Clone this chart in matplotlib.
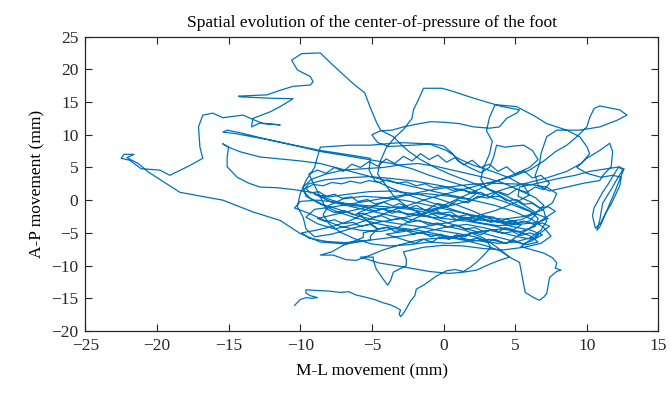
import numpy as np
import matplotlib.pyplot as plt

plt.rcParams['font.family'] = ['Liberation Serif', 'DejaVu Serif']

# centre-of-pressure trajectory (M-L, A-P) in mm, split into pieces of the walk
bottom_tail = [(-10.4, -16.1), (-10.0, -15.2), (-9.6, -14.9), (-9.2, -15.0), (-8.8, -14.9), (-9.3, -14.6),
               (-9.6, -14.2), (-9.6, -13.7), (-8.9, -13.8), (-8.0, -13.9), (-7.2, -14.1), (-6.6, -14.0),
               (-6.1, -14.5), (-5.5, -14.8), (-4.8, -15.2), (-4.2, -15.7), (-3.7, -16.0), (-3.3, -16.4),
               (-3.0, -16.8), (-3.1, -17.4), (-3.0, -17.8), (-2.8, -17.3), (-2.6, -16.6), (-2.3, -15.4),
               (-2.0, -14.6), (-1.9, -13.6), (-1.4, -13.0), (-1.0, -12.4), (-0.5, -11.6), (0.2, -10.8),
               (0.8, -10.6), (1.4, -10.9), (1.9, -10.2), (2.4, -9.3), (2.9, -8.2), (3.3, -7.2)]

centre_a = [(3.0, -6.2), (2.2, -5.6), (1.0, -5.1), (-0.4, -4.6), (-1.8, -4.0), (-3.2, -3.6), (-4.6, -3.1),
            (-6.0, -2.4), (-7.2, -1.5), (-8.4, -0.7), (-9.3, 0.3), (-9.8, 1.4), (-9.4, 2.5), (-8.3, 3.1),
            (-6.8, 3.4), (-5.2, 3.6), (-3.6, 3.3), (-2.0, 2.9), (-0.4, 2.3), (1.2, 1.6), (2.8, 0.8),
            (4.2, -0.2), (5.4, -1.2), (6.6, -2.2), (7.3, -2.8), (6.6, -3.4), (5.2, -3.7), (3.8, -3.9),
            (2.4, -3.4), (1.0, -2.6), (-0.4, -1.9), (-1.8, -1.3), (-3.2, -1.0), (-4.4, -1.4), (-5.6, -2.2),
            (-6.6, -3.2), (-7.7, -4.0), (-8.9, -4.6), (-9.9, -5.0), (-9.4, -5.8), (-8.2, -6.3), (-6.9, -6.5),
            (-5.5, -6.2), (-4.0, -5.8), (-2.6, -5.4), (-1.2, -4.8), (0.2, -4.1), (1.6, -3.7), (3.0, -4.3),
            (4.3, -5.1), (5.4, -5.7), (6.3, -6.0), (6.9, -5.3), (6.1, -4.6), (4.7, -4.0), (3.4, -3.0),
            (2.2, -1.8), (0.9, -0.7), (-0.5, 0.3), (-2.0, 1.0), (-3.6, 1.4), (-5.2, 1.3), (-6.7, 0.9),
            (-8.0, 0.5), (-9.0, 0.9), (-7.8, -0.3), (-6.4, -1.0), (-4.8, -1.8), (-3.2, -2.6), (-1.6, -3.2),
            (0.0, -3.9), (1.5, -4.6), (2.8, -5.8), (3.6, -7.0), (4.2, -8.0), (4.6, -8.7)]

right_low_loop = [(5.3, -9.5), (5.4, -10.6), (5.5, -11.8), (5.6, -13.0), (5.7, -14.1), (6.3, -14.9),
                  (6.7, -15.3), (7.0, -14.8), (7.2, -14.3), (7.3, -13.0), (7.4, -11.8), (7.9, -10.9),
                  (8.2, -10.7), (7.8, -10.4), (7.9, -9.6), (7.6, -8.8), (7.0, -8.1), (6.2, -7.6), (5.4, -7.1)]

mid_band = [(7.4, -4.0), (6.9, -3.5), (6.3, -3.7), (5.6, -3.2), (5.1, -3.5), (4.4, -2.9), (3.9, -3.3),
            (3.5, -2.6), (2.8, -2.4), (2.3, -2.9), (1.7, -2.2), (1.0, -2.5), (0.5, -1.8), (-0.2, -2.0),
            (-0.6, -1.3), (-1.3, -1.5), (-1.9, -0.8), (-2.4, -1.2), (-3.1, -0.5), (-3.5, -0.9), (-4.2, -0.3),
            (-4.8, -0.6), (-5.3, 0.1), (-6.0, -0.2), (-6.4, 0.5), (-7.1, 0.3), (-7.6, 0.9), (-8.2, 0.6),
            (-8.7, 1.3), (-9.3, 1.1), (-9.6, 1.8), (-9.1, 2.4), (-8.4, 2.2), (-7.8, 2.7), (-7.1, 2.5),
            (-6.5, 2.9), (-5.8, 2.6), (-5.2, 3.0), (-4.5, 2.7), (-3.9, 3.1), (-3.2, 2.6), (-2.6, 2.8),
            (-1.9, 2.2), (-1.3, 2.5), (-0.7, 1.9), (0.0, 2.1), (0.6, 1.5), (1.3, 1.7), (1.9, 1.0), (2.6, 1.2),
            (3.2, 0.5), (3.9, 0.6), (4.4, -0.1), (5.1, 0.1), (5.6, -0.6), (6.2, -0.5), (6.7, -1.2),
            (7.3, -1.0), (7.8, -1.7)]

centre_b = [(4.4, -6.6), (3.2, -6.0), (1.8, -6.3), (0.4, -6.6), (-1.0, -6.4), (-2.4, -6.8), (-3.8, -7.0),
            (-5.0, -6.7), (-6.2, -5.9), (-7.2, -4.9), (-8.0, -3.6), (-8.4, -2.2), (-8.0, -0.8), (-7.0, 0.2),
            (-5.6, 0.6), (-4.2, 0.4), (-2.8, 0.0), (-1.4, -0.6), (0.0, -1.3), (1.4, -2.0), (2.8, -2.6),
            (4.2, -2.9), (5.6, -2.5), (6.8, -1.6), (7.6, -0.4), (7.9, 1.0), (7.2, 2.0), (6.0, 2.4),
            (4.6, 2.5), (3.2, 2.6), (1.8, 2.4), (0.4, 2.0), (-1.0, 1.5), (-2.4, 0.9), (-3.8, 0.0),
            (-5.0, -1.0), (-6.0, -2.0), (-4.6, -4.4), (-5.1, -5.5), (-5.1, -6.1)]

left_excursion = [(-6.8, -6.7), (-8.6, -6.4), (-10.0, -5.1), (-11.4, -3.1), (-13.3, -1.8), (-15.4, 0.0),
                  (-18.4, 1.2), (-19.4, 2.6), (-20.6, 4.3), (-21.3, 5.6), (-22.1, 6.5), (-21.6, 7.0),
                  (-22.3, 7.0), (-22.5, 6.4), (-21.9, 6.1), (-21.1, 4.8), (-19.8, 4.6), (-19.1, 3.8),
                  (-17.7, 5.3), (-16.8, 6.4), (-17.0, 8.1), (-17.1, 11.2), (-16.8, 13.0), (-16.1, 13.3),
                  (-15.4, 12.6), (-14.0, 13.0), (-12.6, 11.7), (-11.4, 11.5), (-12.8, 11.8), (-13.4, 11.2),
                  (-13.3, 12.5), (-12.1, 13.5), (-11.4, 14.3), (-10.5, 15.5), (-12.3, 15.6), (-14.2, 15.8),
                  (-14.3, 15.9), (-12.3, 16.1), (-11.4, 16.8), (-10.5, 17.4), (-9.3, 17.6), (-9.1, 18.1),
                  (-9.3, 18.9), (-10.2, 19.9), (-10.6, 21.4), (-9.9, 22.4), (-8.6, 22.5), (-7.7, 20.6),
                  (-6.3, 17.8), (-5.5, 16.4), (-5.1, 14.1), (-4.7, 12.0), (-4.4, 10.7), (-3.5, 9.7)]

centre_c = [(-3.0, 8.6), (-2.4, 7.4), (-1.6, 6.2), (-0.6, 5.0), (0.4, 4.0), (1.6, 3.0), (2.8, 2.0),
            (4.0, 1.0), (5.0, 0.0), (5.8, -1.0), (6.5, -2.0), (6.0, -3.2), (4.8, -3.6), (3.4, -3.2),
            (2.0, -2.4), (0.6, -1.4), (-0.8, -0.4), (-2.2, 0.6), (-3.6, 1.8), (-4.8, 3.0), (-5.2, 4.6),
            (-5.1, 6.4), (-6.8, 7.0), (-8.6, 7.6), (-10.4, 8.4), (-12.5, 9.4), (-14.2, 10.3), (-15.1, 10.7),
            (-15.4, 10.4), (-14.6, 10.2), (-12.4, 9.3), (-10.3, 8.3), (-8.5, 7.4), (-6.8, 6.8), (-5.2, 6.2),
            (-3.6, 5.6), (-2.2, 4.8), (-1.0, 3.8), (0.2, 3.0), (1.4, 2.2), (2.4, 1.2), (1.8, 0.2),
            (0.4, 0.8), (-1.2, 1.6), (-2.8, 2.4), (-4.4, 3.2), (-5.8, 4.0), (-7.2, 4.8), (-8.6, 5.6),
            (-10.0, 6.0), (-12.8, 6.6), (-14.2, 7.4), (-15.0, 8.1), (-15.4, 8.6), (-15.0, 8.1), (-15.1, 6.6),
            (-15.1, 5.1), (-14.4, 3.5), (-13.6, 2.6), (-12.8, 2.0), (-11.6, 1.9), (-10.4, 1.6), (-9.2, 1.2),
            (-7.8, 0.0), (-6.4, -0.8), (-4.8, -1.2), (-3.2, -1.8), (-1.6, -2.4), (0.0, -2.8), (1.6, -3.2),
            (3.2, -3.8), (4.8, -4.6), (6.0, -5.4), (6.6, -6.4), (5.8, -6.8), (4.4, -6.0), (3.0, -5.2),
            (1.6, -4.4), (0.2, -3.4), (-1.2, -2.4), (-2.4, -1.2), (-3.4, 0.4), (-4.0, 2.2), (-4.6, 4.0),
            (-4.4, 6.0), (-4.0, 8.0), (-3.4, 9.6), (-2.8, 10.8), (-2.2, 12.5)]

top_arc = [(-2.1, 13.8), (-1.7, 15.6), (-1.4, 17.1), (-0.1, 17.1), (0.7, 16.6), (1.8, 15.8), (3.0, 15.0),
           (4.1, 14.3), (5.3, 13.8), (5.1, 13.3), (4.4, 12.5), (3.9, 11.2), (3.2, 11.0), (2.1, 11.2),
           (1.1, 11.7), (0.1, 11.9), (-0.9, 12.0), (-1.9, 11.6), (-2.8, 11.2), (-3.6, 10.7), (-4.4, 10.6),
           (-5.0, 10.0), (-4.6, 8.8), (-3.8, 8.2), (-2.2, 8.4), (-0.8, 8.6), (0.0, 8.3), (0.6, 7.2),
           (1.0, 6.0), (1.8, 5.0), (2.6, 4.2), (3.2, 5.0), (3.5, 6.6), (3.7, 8.4), (4.3, 8.1), (5.0, 8.3),
           (5.6, 8.4), (6.2, 7.6), (6.6, 6.2), (6.0, 5.0), (5.0, 4.0), (3.8, 3.0), (2.6, 1.8), (1.4, 0.6)]

centre_d = [(0.2, -0.6), (-1.0, -1.8), (-2.2, -3.0), (-3.2, -4.2), (-4.4, -4.8), (-5.8, -4.6), (-7.2, -4.0),
            (-8.4, -3.0), (-9.4, -2.0), (-10.4, -1.2), (-10.0, -0.2), (-8.8, 0.0), (-7.2, -0.4), (-5.6, -0.8),
            (-4.0, -1.0), (-2.4, -1.4), (-0.8, -2.0), (0.8, -2.4), (2.4, -3.0), (4.0, -3.4), (5.4, -3.0),
            (6.4, -2.0), (7.0, -0.8), (6.4, 0.4), (5.4, 1.4), (4.2, 2.6), (3.0, 3.4), (1.8, 4.0), (0.6, 4.6),
            (-0.6, 5.2), (-1.8, 5.6), (-3.0, 5.4), (-4.2, 5.0), (-5.6, 4.8), (-7.0, 4.6), (-8.2, 4.0),
            (-9.2, 3.2), (-9.8, 2.0), (-9.6, 0.6), (-8.6, -0.6), (-7.4, -1.8), (-6.0, -2.8), (-4.6, -3.6),
            (-3.2, -4.2), (-1.8, -4.6), (-0.4, -5.2), (1.0, -5.8), (2.4, -6.2), (3.8, -6.6), (5.0, -6.4),
            (6.0, -5.8), (6.8, -4.6), (7.2, -3.2), (7.0, -1.6), (6.2, -0.4), (5.2, 0.6), (5.3, 2.0)]

right_stripes = [(6.6, 2.6), (8.0, 3.3), (9.2, 3.8), (10.2, 4.4), (11.4, 4.8), (12.3, 5.1), (12.5, 4.6),
                 (12.1, 3.2), (11.8, 2.0), (11.4, 0.6), (11.1, -0.5), (11.0, -1.8), (10.9, -3.1), (10.7, -4.6),
                 (10.9, -4.1), (11.2, -2.6), (11.4, -1.6), (11.7, 0.0), (12.0, 1.5), (12.3, 3.2), (12.6, 4.8),
                 (12.2, 5.0), (11.8, 3.6), (11.5, 2.5), (11.1, 1.2), (10.8, 0.0), (10.5, -1.2), (10.4, -2.4),
                 (10.6, -4.3), (11.0, -3.4), (11.3, -2.0), (11.7, -0.6), (12.0, 0.8), (12.3, 2.2), (12.4, 3.5),
                 (11.8, 3.8), (11.0, 3.5), (10.0, 4.1), (9.3, 5.0), (10.0, 6.4), (10.9, 7.6), (11.6, 8.7),
                 (11.8, 7.4), (11.7, 5.1), (11.2, 4.0), (10.9, 3.0), (9.8, 2.6), (8.6, 2.0), (7.4, 1.4)]

top_right = [(6.6, 2.2), (6.4, 3.8), (6.7, 5.6), (6.8, 7.1), (7.2, 9.7), (7.9, 10.7), (9.5, 10.7),
             (10.9, 11.2), (12.1, 12.2), (12.8, 13.0), (12.3, 13.8), (10.9, 14.4), (10.5, 14.0), (10.2, 12.6),
             (10.0, 11.2), (9.3, 9.7), (8.6, 8.4), (7.8, 7.4), (7.0, 6.0)]

centre_e = [(6.0, 4.6), (4.8, 3.6), (3.4, 2.8), (2.0, 2.0), (0.6, 1.2), (-0.8, 0.4), (-2.2, -0.6),
            (-3.6, -1.6), (-5.0, -2.8), (-6.4, -3.8), (-7.6, -4.4), (-8.8, -3.6), (-9.6, -2.6), (-9.0, -1.4),
            (-7.6, -1.0), (-6.0, -0.4), (-4.4, 0.2), (-2.8, 0.8), (-1.2, 1.0), (0.4, 0.6), (2.0, 0.0),
            (3.6, -0.8), (5.0, -1.8), (6.2, -3.0), (7.0, -4.2), (7.5, -5.5), (6.8, -6.6), (5.6, -7.2),
            (4.2, -7.6), (2.8, -7.4), (1.4, -7.0), (0.0, -6.9), (-1.4, -7.2), (-2.8, -7.9)]

lower_loops = [(-2.6, -9.0), (-2.6, -10.0), (-3.5, -11.0), (-3.7, -12.3), (-3.9, -13.0), (-4.3, -11.8),
               (-4.7, -10.5), (-4.9, -9.2), (-4.9, -8.7), (-5.8, -8.7), (-4.5, -9.6), (-2.8, -10.2),
               (-1.0, -10.9), (0.4, -11.2), (1.4, -11.0), (2.3, -10.7), (3.2, -9.8), (3.9, -9.2), (4.6, -8.7),
               (4.0, -7.8), (3.0, -7.0), (1.6, -6.2), (0.2, -5.6), (-1.2, -5.2), (-2.6, -4.6), (-4.0, -4.2),
               (-5.6, -5.0), (-5.6, -5.7), (-7.0, -6.9), (-7.8, -7.9), (-8.6, -8.4), (-7.7, -8.4),
               (-6.8, -9.1), (-6.1, -9.2), (-5.1, -8.4), (-4.2, -7.6), (-3.0, -6.8), (-1.6, -6.0),
               (-0.2, -5.8), (1.2, -5.4), (2.6, -4.8), (4.0, -4.4), (5.4, -4.8), (6.4, -4.0), (6.6, -2.8),
               (6.0, -1.6), (5.0, -0.6), (4.0, 0.6), (3.0, 1.8), (2.6, 3.2), (2.8, 5.0), (3.2, 7.0),
               (3.4, 9.0), (3.0, 10.6), (3.2, 12.6), (3.6, 14.6)]

diagonal_back = [(5.1, 14.3), (6.4, 12.8), (7.2, 11.7), (8.6, 10.7), (9.5, 9.7), (10.0, 8.2), (10.2, 7.1),
                 (9.6, 5.6), (8.6, 4.4), (7.2, 3.4), (5.8, 2.6), (4.4, 1.8), (3.0, 0.8), (1.6, -0.2),
                 (0.2, -1.0), (-1.4, -2.0), (-3.0, -2.8), (-4.6, -3.4), (-6.2, -4.2), (-7.8, -5.2), (-9.0, -5.6),
                 (-9.6, -4.4), (-9.8, -2.6), (-10.2, -1.0), (-10.0, 1.0), (-9.6, 3.0), (-9.0, 5.0), (-8.8, 6.6),
                 (-8.6, 8.1), (-6.6, 8.4), (-5.1, 8.4), (-3.0, 8.8), (-1.0, 8.6), (0.2, 7.6), (1.0, 6.4),
                 (2.0, 5.4), (3.4, 4.4), (4.6, 3.4), (5.6, 2.2), (6.0, 0.8), (5.0, -0.4), (3.6, -1.6),
                 (2.0, -2.6), (0.4, -3.4), (-1.2, -4.0), (-2.8, -4.8), (-4.0, -5.2)]

inner_loops = [(-2.0, -6.6), (-1.4, -6.0), (-0.8, -6.4), (-0.3, -5.7), (0.4, -6.0), (0.9, -5.3), (1.5, -5.6),
               (2.1, -4.9), (2.6, -5.3), (3.2, -4.6), (3.8, -4.9), (4.3, -4.2), (4.9, -4.5), (5.4, -3.8),
               (5.0, -3.2), (4.4, -3.6), (3.9, -3.0), (3.3, -3.4), (2.7, -2.8), (2.1, -3.2), (1.5, -2.6),
               (0.9, -3.0), (0.4, -2.3), (-0.2, -2.7), (-0.8, -2.1), (-1.3, -2.5), (-1.9, -1.9), (-2.5, -2.3),
               (-3.1, -1.6), (-3.6, -2.0), (-4.2, -1.3), (-4.8, -1.7), (-5.4, -1.1)]

low_band = [(-8.8, -2.8), (-8.2, -3.3), (-7.6, -3.0), (-7.0, -3.6), (-6.3, -3.4), (-5.8, -4.0), (-5.1, -3.7),
            (-4.6, -4.4), (-3.9, -4.1), (-3.4, -4.8), (-2.7, -4.5), (-2.1, -5.2), (-1.5, -4.9), (-0.9, -5.6),
            (-0.2, -5.2), (0.4, -5.9), (1.1, -5.5), (1.7, -6.2), (2.3, -5.8), (3.0, -6.4), (3.6, -6.0),
            (4.3, -6.6), (4.9, -6.1), (5.5, -6.7), (6.2, -6.2), (6.6, -5.4), (6.0, -5.0), (5.4, -5.4),
            (4.8, -4.8), (4.1, -5.1), (3.5, -4.5), (2.8, -4.8), (2.2, -4.2), (1.5, -4.4), (0.9, -3.8),
            (0.2, -4.1), (-0.4, -3.5), (-1.1, -3.7), (-1.7, -3.1), (-2.4, -3.4), (-3.0, -2.8), (-3.7, -3.0),
            (-4.3, -2.4), (-5.0, -2.6), (-5.6, -2.0), (-6.3, -2.2), (-6.9, -1.6), (-7.6, -1.9), (-8.2, -1.3)]

upper_meander = [(-9.4, 4.0), (-8.8, 4.6), (-8.2, 4.1), (-7.6, 5.0), (-7.0, 4.4), (-6.4, 5.5), (-5.8, 5.0),
                 (-5.2, 5.9), (-4.6, 5.2), (-4.0, 6.3), (-3.4, 5.6), (-2.8, 6.7), (-2.2, 6.0), (-1.6, 7.1),
                 (-1.0, 6.2), (-0.4, 6.9), (0.2, 5.8), (0.8, 6.5), (1.4, 5.4), (2.0, 6.1), (2.6, 5.0),
                 (3.2, 5.5), (3.8, 4.4), (4.4, 5.1), (5.0, 4.0), (5.6, 4.5), (6.2, 3.4), (6.8, 3.8),
                 (7.4, 2.6), (7.0, 1.6), (6.4, 2.0), (5.8, 1.2), (5.1, 1.7), (4.5, 0.8), (3.8, 1.3),
                 (3.1, 0.3), (2.4, 0.6), (1.7, -0.4), (1.0, 0.0), (0.3, -0.9), (-0.4, -0.5), (-1.1, -1.4)]

pieces = [bottom_tail, centre_a, right_low_loop, mid_band, centre_b, left_excursion, centre_c, top_arc,
          centre_d, right_stripes, top_right, centre_e, lower_loops, diagonal_back, inner_loops, low_band,
          upper_meander]
path = np.array([p for piece in pieces for p in piece])

fig = plt.figure(figsize=(6.7, 3.94), dpi=100)
ax = fig.add_axes([0.1273, 0.1599, 0.8555, 0.7472])
ax.plot(path[:, 0], path[:, 1], color='#0072BD', linewidth=0.9)

ax.set_xlim(-25, 15)
ax.set_ylim(-20, 25)
ax.set_xticks(np.arange(-25, 16, 5))
ax.set_yticks(np.arange(-20, 26, 5))
ax.tick_params(direction='in', top=True, right=True, length=5, width=0.8,
               labelsize=12.5, colors='#262626', pad=5)
for s in ax.spines.values():
    s.set_color('#262626')
    s.set_linewidth(0.9)

ax.set_title('Spatial evolution of the center-of-pressure of the foot', fontsize=12.5, pad=7)
ax.set_xlabel('M-L movement (mm)', fontsize=12.5, labelpad=7)
ax.set_ylabel('A-P movement (mm)', fontsize=12.5, labelpad=4)

fig.savefig('out.png', dpi=100)
